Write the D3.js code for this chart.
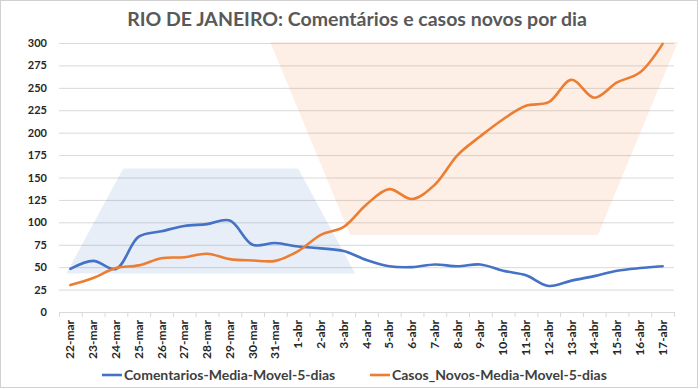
<!DOCTYPE html>
<html>
<head>
<meta charset="utf-8">
<script src="https://cdn.jsdelivr.net/npm/d3@7"></script>
<style>
  body { margin: 0; background: #fff; }
  text { font-family: Lato, "Open Sans", sans-serif; }
</style>
</head>
<body>
<div id="plot"></div>
<script>
// categories (days)
const days = ["22-mar","23-mar","24-mar","25-mar","26-mar","27-mar","28-mar","29-mar","30-mar","31-mar",
  "1-abr","2-abr","3-abr","4-abr","5-abr","6-abr","7-abr","8-abr","9-abr","10-abr","11-abr","12-abr",
  "13-abr","14-abr","15-abr","16-abr","17-abr"];

// series values
const comentarios = [48, 57, 48, 84, 90, 96, 98, 102, 75, 77, 73, 71, 68, 58, 51, 50, 53, 51, 53, 46, 41, 29, 35, 40, 46, 49, 51];
const casosNovos = [30, 38, 49, 52, 60, 61, 65, 59, 57.5, 57, 68, 86, 95, 120, 137, 126, 142, 175, 196, 215, 230, 234, 259, 239, 256, 267, 299];

const seriesNames = ["Comentarios-Media-Movel-5-dias", "Casos_Novos-Media-Movel-5-dias"];
const yTicks = [0, 25, 50, 75, 100, 125, 150, 175, 200, 225, 250, 275, 300];

// highlight shapes, as [day index, value] corners
const blueShape = [[2.32, 160], [10.0, 160], [12.5, 43], [-0.18, 43]];
const orangeShape = [[8.77, 301], [26.67, 301], [23.16, 86], [12.28, 86]];

const width = 700, height = 389;
const margin = {top: 43, right: 26, bottom: 77, left: 59};

const svg = d3.select("#plot").append("svg")
  .attr("width", width)
  .attr("height", height);

// border
svg.append("rect")
  .attr("x", 0.5).attr("y", 0.5)
  .attr("width", width - 3).attr("height", height - 2)
  .attr("fill", "#fff")
  .attr("stroke", "#d0d0d0");

const x = d3.scaleBand()
  .domain(days)
  .range([margin.left, width - margin.right])
  .padding(0);
const bw = x.bandwidth();
const xc = d => x(d) + bw / 2;
const xi = i => margin.left + (i + 0.5) * bw;

const y = d3.scaleLinear()
  .domain([0, 300])
  .range([height - margin.bottom, margin.top]);

// title
svg.append("text")
  .attr("x", 357).attr("y", 26)
  .attr("text-anchor", "middle")
  .style("font-size", "19.5px")
  .style("font-weight", "bold")
  .attr("fill", "#595959")
  .text("RIO DE JANEIRO: Comentários e casos novos por dia");

// gridlines
svg.append("g")
  .selectAll("line")
  .data(yTicks)
  .join("line")
  .attr("x1", margin.left).attr("x2", width - margin.right)
  .attr("y1", d => y(d) + 0.5).attr("y2", d => y(d) + 0.5)
  .attr("stroke", "#d9d9d9")
  .attr("stroke-width", 1);

// y labels
svg.append("g")
  .selectAll("text")
  .data(yTicks)
  .join("text")
  .attr("x", 47)
  .attr("y", d => y(d) + 4)
  .attr("text-anchor", "end")
  .style("font-size", "11px")
  .style("font-weight", "bold")
  .attr("fill", "#262626")
  .text(d => d);

// shapes
const shapeLine = d3.line().x(d => xi(d[0])).y(d => y(d[1]));
svg.append("path")
  .attr("d", shapeLine(blueShape) + "Z")
  .attr("fill", "#4472c4")
  .attr("fill-opacity", 0.12);
svg.append("path")
  .attr("d", shapeLine(orangeShape) + "Z")
  .attr("fill", "#ed7d31")
  .attr("fill-opacity", 0.12);

// x axis
const xAxis = svg.append("g")
  .attr("transform", `translate(0,${y(0)})`)
  .call(d3.axisBottom(x).tickSize(0).tickFormat(""));
xAxis.select(".domain").attr("stroke", "#d9d9d9");
// tick marks at band boundaries
svg.append("g")
  .selectAll("line")
  .data(days.concat(["end"]))
  .join("line")
  .attr("x1", (d, i) => margin.left + i * bw + 0.5)
  .attr("x2", (d, i) => margin.left + i * bw + 0.5)
  .attr("y1", y(0)).attr("y2", y(0) + 5)
  .attr("stroke", "#d9d9d9");

svg.append("g")
  .selectAll("text")
  .data(days)
  .join("text")
  .attr("transform", d => `translate(${xc(d) + 4},${y(0) + 8}) rotate(-90)`)
  .attr("text-anchor", "end")
  .style("font-size", "12px")
  .style("font-weight", "bold")
  .attr("fill", "#262626")
  .text(d => d);

// lines
const line = d3.line()
  .x((d, i) => xc(days[i]))
  .y(d => y(d))
  .curve(d3.curveCatmullRom.alpha(0.5));

svg.append("path")
  .datum(comentarios)
  .attr("d", line)
  .attr("fill", "none")
  .attr("stroke", "#4472c4")
  .attr("stroke-width", 2.6)
  .attr("stroke-linecap", "round");

svg.append("path")
  .datum(casosNovos)
  .attr("d", line)
  .attr("fill", "none")
  .attr("stroke", "#ed7d31")
  .attr("stroke-width", 2.6)
  .attr("stroke-linecap", "round");

// legend
const legend = svg.append("g")
  .selectAll("g")
  .data(seriesNames)
  .join("g")
  .attr("transform", (d, i) => `translate(${i === 0 ? 102 : 370},375)`);
legend.append("line")
  .attr("x1", 0).attr("x2", 20)
  .attr("stroke", (d, i) => i === 0 ? "#4472c4" : "#ed7d31")
  .attr("stroke-width", 2.6);
legend.append("text")
  .attr("x", 22).attr("y", 5)
  .style("font-size", "14px")
  .style("font-weight", "bold")
  .attr("fill", "#404040")
  .text(d => d);
</script>
</body>
</html>
